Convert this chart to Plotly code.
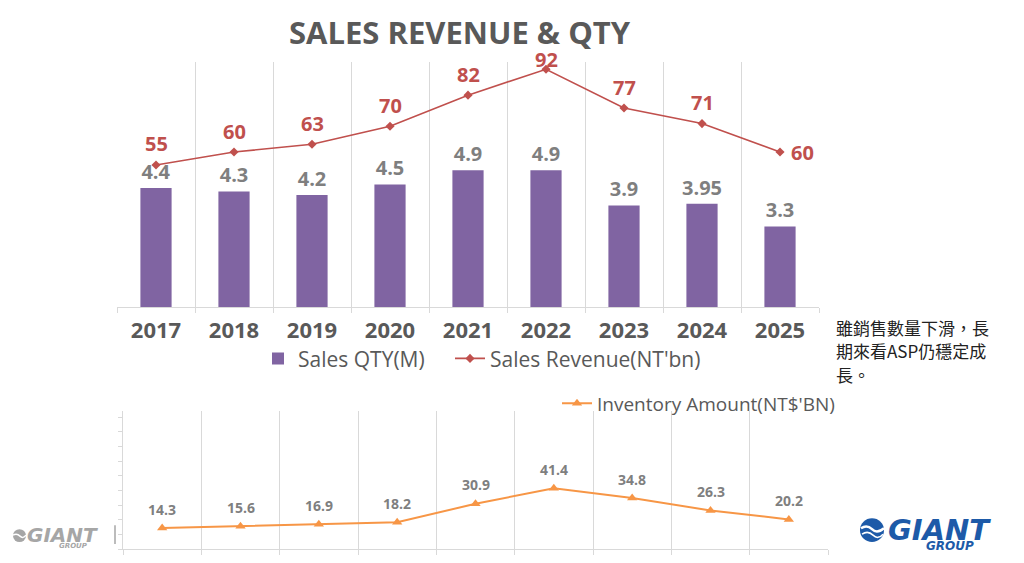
import plotly.graph_objects as go

# ---------------- data ----------------
years = ["2017", "2018", "2019", "2020", "2021", "2022", "2023", "2024", "2025"]
sales_qty = [4.4, 4.3, 4.2, 4.5, 4.9, 4.9, 3.9, 3.95, 3.3]
qty_labels = ["4.4", "4.3", "4.2", "4.5", "4.9", "4.9", "3.9", "3.95", "3.3"]
sales_revenue = [55, 60, 63, 70, 82, 92, 77, 71, 60]
inventory = [14.3, 15.6, 16.9, 18.2, 30.9, 41.4, 34.8, 26.3, 20.2]
note_lines = ["雖銷售數量下滑，長", "期來看ASP仍穩定成", "長。"]
title_text = "SALES REVENUE & QTY"

# ---------------- helpers ----------------
# page body has an 8px default margin; the figure fills the rest of the window
OFF = 8
W, H = 1024 - 2 * OFF, 563 - 2 * OFF
def px(x):
    return (x - OFF) / W
def py(y):
    return 1 - (y - OFF) / H

FONT = "Open Sans, Noto Sans, sans-serif"
LOGO_FONT = "DejaVu Sans"
GRID = "#d9d9d9"
PURPLE = "#8064a2"
RED = "#c0504d"
ORANGE = "#f79646"
GRAYTXT = "#7f7f7f"
DARK = "#595959"
BLUE = "#1d5aa8"
LOGO_GRAY = "#a6a6a6"
NCAT = len(years)

fig = go.Figure()

fig.add_trace(go.Bar(
    x=years, y=sales_qty, name="Sales QTY(M)",
    marker=dict(color=PURPLE, line=dict(width=0)),
    text=qty_labels, textposition="outside", constraintext="none",
    textfont=dict(size=20, color=GRAYTXT, family=FONT, weight="bold"),
    cliponaxis=False, xaxis="x", yaxis="y", legend="legend",
))

fig.add_trace(go.Scatter(
    x=years, y=sales_revenue, name="Sales Revenue(NT'bn)",
    mode="lines+markers",
    line=dict(color=RED, width=1.6),
    marker=dict(symbol="diamond", size=7, color=RED),
    xaxis="x", yaxis="y2", legend="legend3", cliponaxis=False,
))

fig.add_trace(go.Scatter(
    x=years, y=inventory, name="Inventory Amount(NT$'BN)",
    mode="lines+markers",
    line=dict(color=ORANGE, width=2),
    marker=dict(symbol="triangle-up", size=9, color=ORANGE),
    xaxis="x2", yaxis="y3", legend="legend2", cliponaxis=False,
))

annotations = []
rev_max = max(sales_revenue)
for i, v in enumerate(sales_revenue):
    if i == NCAT - 1:
        xs, ys = 22, 0
    elif v == rev_max:
        xs, ys = 0, 10
    else:
        xs, ys = 0, 21
    annotations.append(dict(
        x=i, y=v, xref="x", yref="y2", text=str(v), showarrow=False,
        xshift=xs, yshift=ys,
        font=dict(size=20, color=RED, family=FONT, weight="bold"),
    ))

for i, v in enumerate(inventory):
    annotations.append(dict(
        x=i, y=v, xref="x2", yref="y3", text=str(v), showarrow=False,
        yshift=19,
        font=dict(size=14, color=GRAYTXT, family=FONT, weight="bold"),
    ))

# title
annotations.append(dict(
    x=px(460), y=py(32), xref="paper", yref="paper", text=title_text,
    showarrow=False, xanchor="center", yanchor="middle",
    font=dict(size=31, color=DARK, family=FONT, weight="bold"),
))

# side note
for k, line in enumerate(note_lines):
    annotations.append(dict(
        x=px(834), y=py(330 + 24 * k), xref="paper", yref="paper", text=line,
        showarrow=False, xanchor="left", yanchor="middle",
        font=dict(size=17, color="#222222", family="Noto Sans CJK TC"),
    ))

# logos (text)
annotations += [
    dict(x=px(886), y=py(535), xref="paper", yref="paper", text="<b><i>GIANT</i></b>",
         showarrow=False, xanchor="left", yanchor="middle",
         font=dict(size=29, color=BLUE, family=LOGO_FONT)),
    dict(x=px(976), y=py(551), xref="paper", yref="paper", text="<b><i>GROUP</i></b>",
         showarrow=False, xanchor="right", yanchor="middle",
         font=dict(size=12, color=BLUE, family=LOGO_FONT)),
    dict(x=px(25), y=py(540), xref="paper", yref="paper", text="<b><i>GIANT</i></b>",
         showarrow=False, xanchor="left", yanchor="middle",
         font=dict(size=20, color=LOGO_GRAY, family=LOGO_FONT)),
    dict(x=px(90), y=py(551), xref="paper", yref="paper", text="<b><i>GROUP</i></b>",
         showarrow=False, xanchor="right", yanchor="middle",
         font=dict(size=7, color=LOGO_GRAY, family=LOGO_FONT)),
]

shapes = [
    # right emblem
    dict(type="circle", xref="paper", yref="paper",
         x0=px(860), x1=px(884), y0=py(547), y1=py(523),
         fillcolor=BLUE, line=dict(width=0)),
    dict(type="path", xref="paper", yref="paper",
         path=f"M {px(861)} {py(533)} Q {px(867)} {py(529)} {px(872)} {py(534)} T {px(884)} {py(533)}",
         line=dict(color="white", width=2.5)),
    dict(type="path", xref="paper", yref="paper",
         path=f"M {px(862)} {py(539)} Q {px(868)} {py(535)} {px(873)} {py(540)} T {px(883)} {py(539)}",
         line=dict(color="white", width=1.5)),
    # left emblem
    dict(type="circle", xref="paper", yref="paper",
         x0=px(13), x1=px(26), y0=py(547), y1=py(534),
         fillcolor=LOGO_GRAY, line=dict(width=0)),
    dict(type="path", xref="paper", yref="paper",
         path=f"M {px(13)} {py(540)} Q {px(17)} {py(538)} {px(20)} {py(541)} T {px(26)} {py(540)}",
         line=dict(color="white", width=1.5)),
    # separator line near left logo
    dict(type="line", xref="paper", yref="paper",
         x0=px(115), x1=px(115), y0=py(530), y1=py(549),
         line=dict(color=LOGO_GRAY, width=1.5)),
]

legend_font = dict(size=21, color=DARK, family=FONT)

fig.update_layout(
    width=W, height=H,
    margin=dict(l=0, r=0, t=0, b=0),
    paper_bgcolor="white", plot_bgcolor="white",
    bargap=0.6,
    showlegend=True,
    xaxis=dict(
        domain=[px(117), px(819)], type="category", anchor="y",
        range=[-0.5, NCAT - 0.5],
        tickson="boundaries", showgrid=True, gridcolor=GRID, gridwidth=1,
        showline=True, linecolor=GRID, linewidth=1,
        ticks="outside", ticklen=5, tickcolor=GRID,
        tickfont=dict(size=22, color=DARK, family=FONT, weight="bold"),
        ticklabelstandoff=3,
    ),
    yaxis=dict(
        domain=[py(310), py(62)], range=[1, 8], anchor="x",
        visible=False, showgrid=False, zeroline=False,
    ),
    yaxis2=dict(
        overlaying="y", range=[0, 95], anchor="x", side="right",
        visible=False, showgrid=False, zeroline=False,
    ),
    xaxis2=dict(
        domain=[px(123), px(828)], type="category", anchor="y3",
        range=[-0.5, NCAT - 0.5],
        tickson="boundaries", showgrid=True, gridcolor=GRID, gridwidth=1,
        showline=True, linecolor=GRID, linewidth=1,
        ticks="outside", ticklen=6, tickcolor=GRID,
        showticklabels=False,
    ),
    yaxis3=dict(
        domain=[py(554), py(415)], range=[0, 94], anchor="x2",
        showgrid=False, zeroline=False, showline=True, linecolor=GRID,
        ticks="outside", ticklen=4, tickcolor=GRID, dtick=10, tick0=0,
        showticklabels=False,
    ),
    legend=dict(
        orientation="h", x=px(258), xanchor="left", y=py(362), yanchor="middle",
        font=legend_font, bgcolor="rgba(0,0,0,0)",
    ),
    legend3=dict(
        orientation="h", x=px(450), xanchor="left", y=py(362), yanchor="middle",
        font=legend_font, bgcolor="rgba(0,0,0,0)",
    ),
    legend2=dict(
        orientation="h", x=px(557), xanchor="left", y=py(407), yanchor="middle",
        font=dict(size=19, color=DARK, family=FONT), bgcolor="rgba(0,0,0,0)",
    ),
    annotations=annotations,
    shapes=shapes,
)

fig.write_html("out.html")
